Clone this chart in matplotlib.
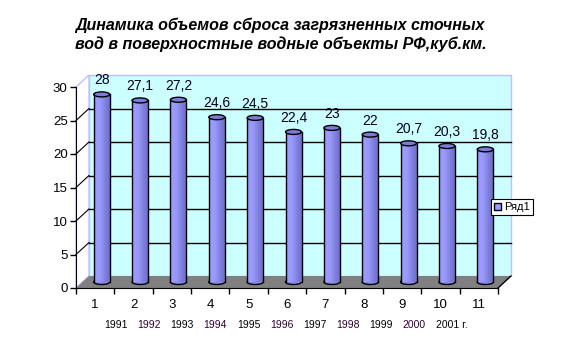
import numpy as np
import matplotlib
matplotlib.use("Agg")
import matplotlib.pyplot as plt
from matplotlib.patches import Polygon, Rectangle, Ellipse, Patch
from matplotlib.colors import LinearSegmentedColormap

plt.rcParams['font.family'] = ['Liberation Sans', 'DejaVu Sans']

# ---- data ----
categories = ["1", "2", "3", "4", "5", "6", "7", "8", "9", "10", "11"]
values = [28, 27.1, 27.2, 24.6, 24.5, 22.4, 23, 22, 20.7, 20.3, 19.8]
value_labels = ["28", "27,1", "27,2", "24,6", "24,5", "22,4", "23", "22", "20,7", "20,3", "19,8"]
years = ["1991", "1992", "1993", "1994", "1995", "1996", "1997", "1998", "1999", "2000", "2001 г."]
y_ticks = [0, 5, 10, 15, 20, 25, 30]
series_name = "Ряд1"
title_lines = ["Динамика объемов сброса загрязненных сточных",
               "вод в поверхностные водные объекты РФ,куб.км."]

W, H = 567, 354
fig = plt.figure(figsize=(W / 100, H / 100), dpi=100)
fig.patch.set_facecolor('white')

# front plane of the 3D box (pixels)
x0p, x1p, y0p, y1p = 76, 498, 288, 87
ax = fig.add_axes([x0p / W, 1 - y0p / H, (x1p - x0p) / W, (y0p - y1p) / H])
n = len(values)
ax.set_xlim(-0.5, n - 0.5)
ax.set_ylim(0, 30)
ax.patch.set_visible(False)

px_x = (x1p - x0p) / n          # px per category
px_y = (y0p - y1p) / 30.0       # px per value unit
DX = 13 / px_x
DY = 12 / px_y
xl, xr = -0.5, n - 0.5
ymax = 30

lav = '#c0c0ff'
# back wall
ax.add_patch(Rectangle((xl + DX, DY), xr - xl, ymax, facecolor='#ccffff',
                       edgecolor=lav, lw=1, zorder=0.5, clip_on=False))
# left wall
ax.add_patch(Polygon([(xl, 0), (xl + DX, DY), (xl + DX, ymax + DY), (xl, ymax)],
                     closed=True, facecolor='white', edgecolor=lav, lw=1,
                     zorder=0.6, clip_on=False))
# floor
ax.add_patch(Polygon([(xl, 0), (xr, 0), (xr + DX, DY), (xl + DX, DY)], closed=True,
                     facecolor='#808080', edgecolor='none', zorder=0.7, clip_on=False))
ax.plot([xr, xr + DX], [0, DY], color='black', lw=1, zorder=0.8, clip_on=False)

# gridlines + diagonal tick connectors
for v in y_ticks[1:-1]:
    ax.plot([xl + DX, xr + DX], [v + DY, v + DY], color='black', lw=1, zorder=0.9, clip_on=False)
    ax.plot([xl, xl + DX], [v, v + DY], color='black', lw=0.8, zorder=0.9, clip_on=False)

# cylinders
bw = 16 / px_x
eh = 5 / px_y
grad = np.array([[0.0, 0.15, 0.35, 0.6, 0.85, 1.0]])
cmap = LinearSegmentedColormap.from_list('cyl', ['#9a9aff', '#9c9cff', '#9595f6', '#8a8ae8', '#7f7fdc', '#7474d0'])
for i, v in enumerate(values):
    cx = i + DX / 2
    base = DY / 2
    top = v + DY / 2
    ax.add_patch(Ellipse((cx, base), bw, eh, facecolor='#8888e8', edgecolor='black',
                         lw=1, zorder=2, clip_on=False))
    ax.imshow(grad, cmap=cmap, aspect='auto', interpolation='bilinear',
              extent=(cx - bw / 2, cx + bw / 2, base, top), zorder=3, clip_on=False)
    ax.plot([cx - bw / 2, cx - bw / 2], [base, top], color='black', lw=1, zorder=3.5, clip_on=False)
    ax.plot([cx + bw / 2, cx + bw / 2], [base, top], color='black', lw=1, zorder=3.5, clip_on=False)
    ax.add_patch(Ellipse((cx, top), bw, eh, facecolor='#7c7cd8', edgecolor='black',
                         lw=1, zorder=4, clip_on=False))
    ax.text(cx, top + 14 / px_y, value_labels[i], ha='center', va='center',
            fontsize=10, color='#000020', zorder=5)

ax.set_xlim(-0.5, n - 0.5)
ax.set_ylim(0, 30)

# axes styling
for s in ['top', 'right']:
    ax.spines[s].set_visible(False)
ax.spines['left'].set_color('black')
ax.spines['bottom'].set_color('black')
ax.spines['left'].set_zorder(6)
ax.spines['bottom'].set_zorder(6)
ax.set_yticks(y_ticks)
ax.set_yticklabels([str(t) for t in y_ticks], fontsize=9.5)
ax.tick_params(axis='y', direction='out', length=4, width=1, pad=2)
ax.set_xticks(range(n))
ax.set_xticklabels(categories, fontsize=9.5)
ax.set_xticks(np.arange(-0.5, n, 1.0), minor=True)
ax.tick_params(axis='x', which='major', length=0, pad=8)
ax.tick_params(axis='x', which='minor', direction='out', length=4, width=1)

# years row
for k, yr in enumerate(years):
    xpx = 116 + 33.1 * k + (5 if k == len(years) - 1 else 0)
    fig.text(xpx / W, 1 - 325 / H, yr, ha='center', va='center', fontsize=7.5,
             color='#000000' if k % 2 == 0 else '#300030')

# title
for j, line in enumerate(title_lines):
    fig.text(75 / W, 1 - (30 + 19 * j) / H, line, ha='left', va='baseline', fontsize=11.5,
             fontweight='bold', fontstyle='italic')

# legend
leg = fig.legend(handles=[Patch(facecolor='#9999ff', edgecolor='black', label=series_name)],
                 loc='center left', bbox_to_anchor=(491 / W, 1 - 207 / H),
                 bbox_transform=fig.transFigure, fontsize=8, frameon=True,
                 fancybox=False, framealpha=1, edgecolor='black',
                 handlelength=0.6, handleheight=0.6, handletextpad=0.3,
                 borderpad=0.3, borderaxespad=0)
leg.get_frame().set_linewidth(0.8)

fig.savefig('out.png', dpi=100, facecolor='white')
